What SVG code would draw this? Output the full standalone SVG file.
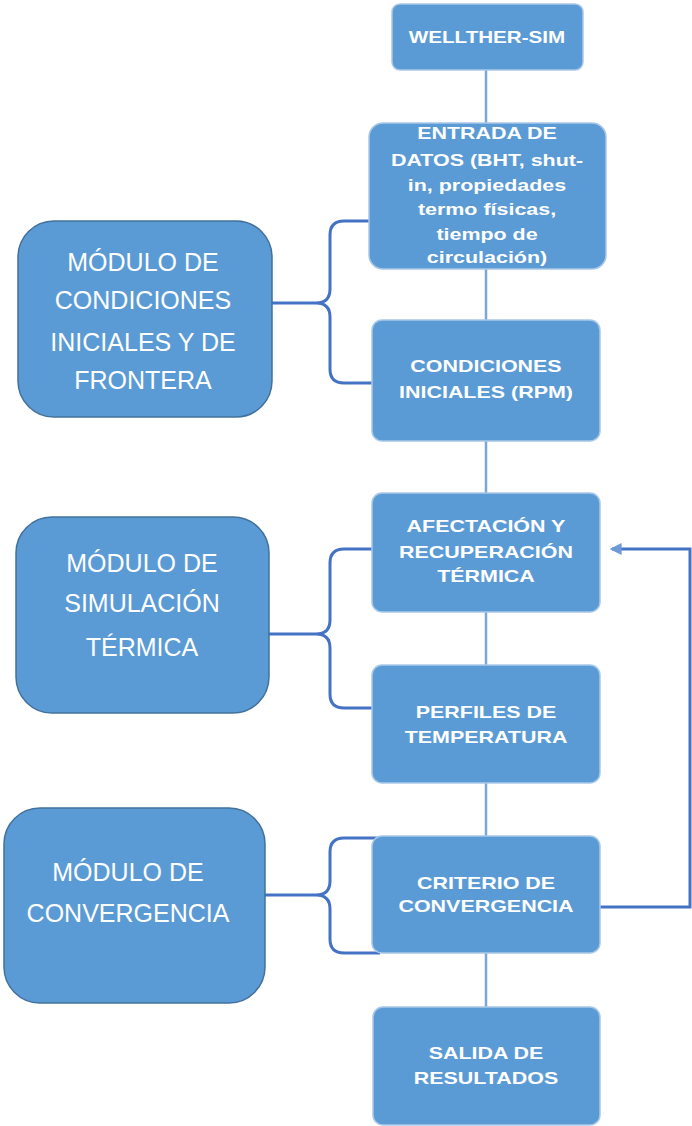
<svg xmlns="http://www.w3.org/2000/svg" width="692" height="1126" viewBox="0 0 692 1126">
<defs>
<style>
.step{fill:#5B9BD5;stroke:#A9C8E8;stroke-width:1.5}
.mod{fill:#5B9BD5;stroke:#41719C;stroke-width:1.5}
.st{font-family:"Liberation Sans",Arial,sans-serif;font-weight:bold;font-size:16.5px;fill:#FFFFFF;text-anchor:middle}
.mt{font-family:"Liberation Sans",Arial,sans-serif;font-size:25px;fill:#FFFFFF;text-anchor:middle}
.flow{stroke:#7AA7D8;stroke-width:2.5;fill:none}
.brace{stroke:#4472C4;stroke-width:3;fill:none}
</style>
<marker id="arr" viewBox="0 0 10 10" refX="8" refY="5" markerWidth="4" markerHeight="4" orient="auto">
<path d="M0,0 L10,5 L0,10 z" fill="#6E9BD8"/>
</marker>
</defs>
<rect width="692" height="1126" fill="#FFFFFF"/>
<g id="connectors">
<path class="flow" d="M486,70 V123 M486,269 V320 M486,441 V493 M486,612 V665 M486,783 V836 M486,953 V1007"/>
<path class="brace" d="M272,303 H316 Q330,303 330,289 V235 Q330,221 344,221 H372 M316,303 Q330,303 330,317 V369 Q330,383 344,383 H372"/>
<path class="brace" d="M269,634 H316 Q330,634 330,620 V563 Q330,549 344,549 H372 M316,634 Q330,634 330,648 V694 Q330,708 344,708 H372"/>
<path class="brace" d="M265,895 H316 Q330,895 330,881 V852 Q330,838 344,838 H380 M316,895 Q330,895 330,909 V939 Q330,953 344,953 H380"/>
<path class="brace" d="M600,907 H690 V549 H612" marker-end="url(#arr)"/>
</g>
<g id="wellther">
<rect class="step" x="392" y="4" width="191" height="66" rx="8"/>
<text class="st" transform="translate(487,43) scale(1.25,1)" x="0" y="0">WELLTHER-SIM</text>
</g>
<g id="entrada">
<rect class="step" x="369" y="123" width="237" height="146" rx="14"/>
<g transform="translate(487,0) scale(1.3,1)">
<text class="st" x="0" y="139">ENTRADA DE</text>
<text class="st" x="0" y="166">DATOS (BHT, shut-</text>
<text class="st" x="0" y="191">in, propiedades</text>
<text class="st" x="0" y="215">termo físicas,</text>
<text class="st" x="0" y="240">tiempo de</text>
<text class="st" x="0" y="263">circulación)</text>
</g>
</g>
<g id="condiciones">
<rect class="step" x="372" y="320" width="228" height="121" rx="10"/>
<g transform="translate(486,0) scale(1.3,1)">
<text class="st" x="0" y="372">CONDICIONES</text>
<text class="st" x="0" y="398">INICIALES (RPM)</text>
</g>
</g>
<g id="afectacion">
<rect class="step" x="372" y="493" width="228" height="119" rx="10"/>
<g transform="translate(486,0) scale(1.3,1)">
<text class="st" x="0" y="532">AFECTACIÓN Y</text>
<text class="st" x="0" y="558">RECUPERACIÓN</text>
<text class="st" x="0" y="582">TÉRMICA</text>
</g>
</g>
<g id="perfiles">
<rect class="step" x="372" y="665" width="228" height="118" rx="10"/>
<g transform="translate(486,0) scale(1.3,1)">
<text class="st" x="0" y="718">PERFILES DE</text>
<text class="st" x="0" y="743">TEMPERATURA</text>
</g>
</g>
<g id="criterio">
<rect class="step" x="372" y="836" width="228" height="117" rx="10"/>
<g transform="translate(486,0) scale(1.3,1)">
<text class="st" x="0" y="889">CRITERIO DE</text>
<text class="st" x="0" y="912">CONVERGENCIA</text>
</g>
</g>
<g id="salida">
<rect class="step" x="373" y="1007" width="227" height="118" rx="10"/>
<g transform="translate(486,0) scale(1.3,1)">
<text class="st" x="0" y="1059">SALIDA DE</text>
<text class="st" x="0" y="1084">RESULTADOS</text>
</g>
</g>
<g id="mod-condiciones">
<rect class="mod" x="18" y="221" width="254" height="196" rx="36"/>
<text class="mt" x="143" y="271">MÓDULO DE</text>
<text class="mt" x="143" y="309">CONDICIONES</text>
<text class="mt" x="143" y="351">INICIALES Y DE</text>
<text class="mt" x="143" y="389">FRONTERA</text>
</g>
<g id="mod-simulacion">
<rect class="mod" x="16" y="517" width="253" height="196" rx="36"/>
<text class="mt" x="142" y="572">MÓDULO DE</text>
<text class="mt" x="142" y="612">SIMULACIÓN</text>
<text class="mt" x="142" y="656">TÉRMICA</text>
</g>
<g id="mod-convergencia">
<rect class="mod" x="4" y="808" width="261" height="195" rx="36"/>
<text class="mt" x="128" y="881">MÓDULO DE</text>
<text class="mt" x="128" y="922">CONVERGENCIA</text>
</g>
</svg>
